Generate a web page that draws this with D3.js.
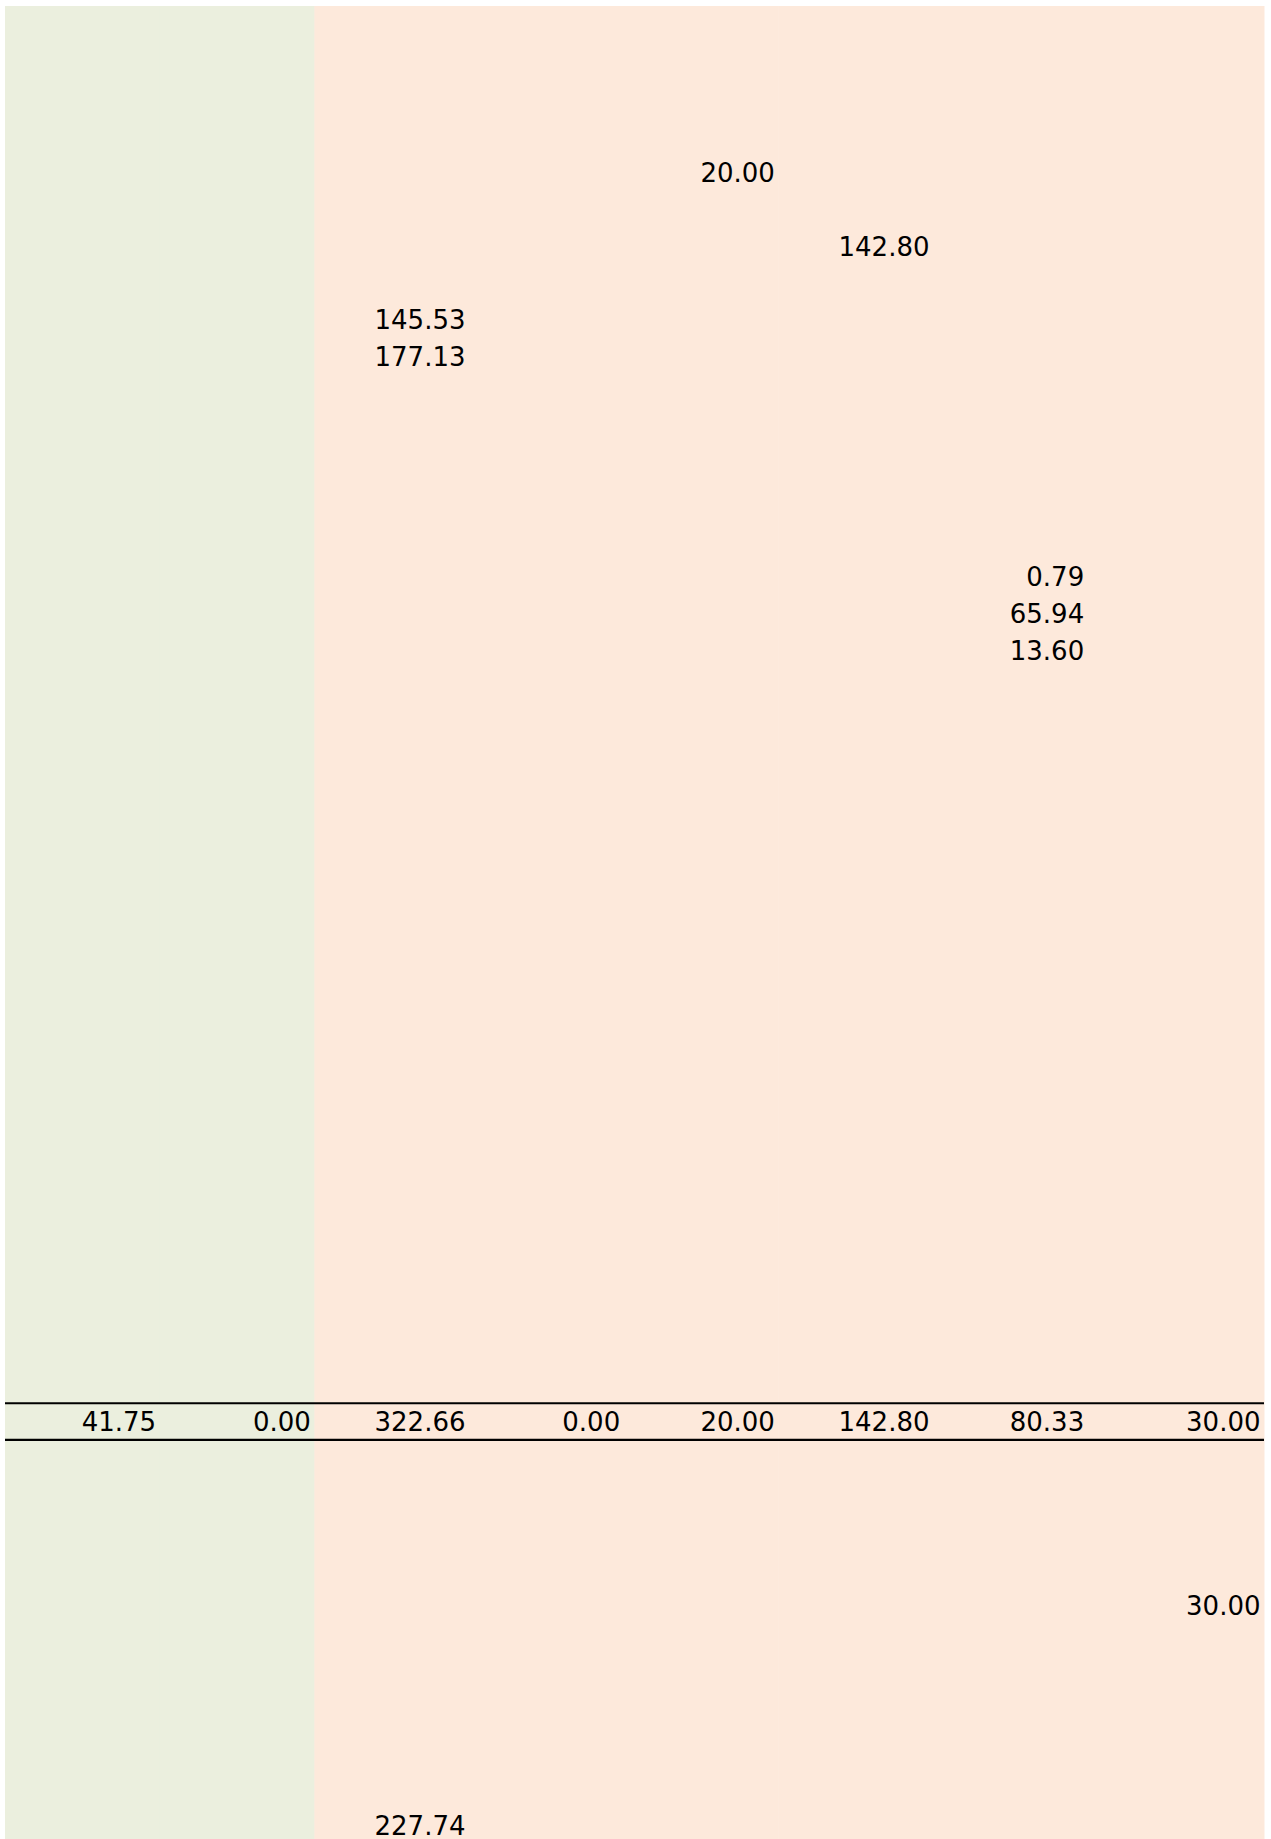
<!DOCTYPE html>
<html>
<head>
<meta charset="utf-8">
<script src="https://cdn.jsdelivr.net/npm/d3@7"></script>
<style>
  html, body { margin: 0; padding: 0; background: #ffffff; }
  svg { display: block; }
  text { font-family: "DejaVu Sans", sans-serif; }
</style>
</head>
<body>
<div id="chart"></div>
<script>
// ---------- DATA ----------
const columns = ["c1", "c2", "c3", "c4", "c5", "c6", "c7", "c8"];
const columnGroups = ["g1", "g1", "g2", "g2", "g2", "g2", "g2", "g2"];
// individual entries (row index, column, value)
const entryRows   = [4, 6, 8, 9, 15, 16, 17, 43, 49];
const entryCols   = ["c5", "c6", "c3", "c3", "c7", "c7", "c7", "c8", "c3"];
const entryValues = [20.00, 142.80, 145.53, 177.13, 0.79, 65.94, 13.60, 30.00, 227.74];
// totals row
const totalRow    = 38;
const totalValues = [41.75, 0.00, 322.66, 0.00, 20.00, 142.80, 80.33, 30.00];

// ---------- LAYOUT ----------
const W = 1271, H = 1839;
const padLeft = 5, padRight = 1264, padTop = 6;
const colWeights = [1, 1, 1, 1, 1, 1, 1, 1.14];
const rowStart = 7.5, rowPitch = 36.73, nRows = 50;
const fontSize = 26;
const textPad = 3.5;
const groupColor = { g1: "#ebefde", g2: "#fde9db" };

const cum = [0];
colWeights.forEach(w => cum.push(cum[cum.length - 1] + w));
const x = d3.scaleLinear().domain([0, cum[cum.length - 1]]).range([padLeft, padRight]);
const colIndex = new Map(columns.map((c, i) => [c, i]));
const colLeft  = c => x(cum[colIndex.get(c)]);
const colRight = c => x(cum[colIndex.get(c) + 1]);

const y = d3.scaleLinear().domain([0, nRows]).range([rowStart, rowStart + rowPitch * nRows]);
const rowMid = r => y(r + 0.5);

const fmt = d3.format(".2f");

const svg = d3.select("#chart").append("svg")
  .attr("width", W).attr("height", H);

// column group bands
svg.append("g").selectAll("rect")
  .data(columns)
  .join("rect")
  .attr("x", d => colLeft(d))
  .attr("y", padTop)
  .attr("width", d => colRight(d) - colLeft(d) + 0.5)
  .attr("height", H - padTop)
  .attr("fill", (d, i) => groupColor[columnGroups[i]]);

// entries
const entries = entryValues.map((v, i) => ({ row: entryRows[i], col: entryCols[i], value: v }));
svg.append("g").selectAll("text")
  .data(entries)
  .join("text")
  .attr("x", d => colRight(d.col) - textPad)
  .attr("y", d => rowMid(d.row))
  .attr("dy", "0.365em")
  .attr("text-anchor", "end")
  .attr("font-size", fontSize)
  .attr("fill", "#000")
  .text(d => fmt(d.value));

// total row rules
svg.append("g").selectAll("line")
  .data([totalRow, totalRow + 1])
  .join("line")
  .attr("x1", padLeft).attr("x2", padRight)
  .attr("y1", d => y(d)).attr("y2", d => y(d))
  .attr("stroke", "#000")
  .attr("stroke-width", 2.2);

// totals
svg.append("g").selectAll("text")
  .data(totalValues.map((v, i) => ({ col: columns[i], value: v })))
  .join("text")
  .attr("x", d => colRight(d.col) - textPad)
  .attr("y", rowMid(totalRow))
  .attr("dy", "0.365em")
  .attr("text-anchor", "end")
  .attr("font-size", fontSize)
  .attr("fill", "#000")
  .text(d => fmt(d.value));
</script>
</body>
</html>
